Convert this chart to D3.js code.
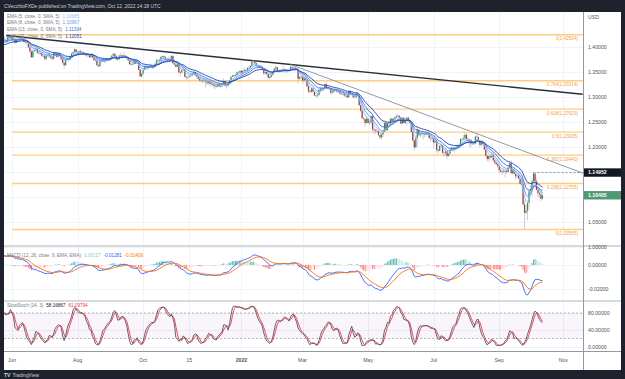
<!DOCTYPE html>
<html>
<head>
<meta charset="utf-8">
<script src="https://cdn.jsdelivr.net/npm/d3@7"></script>
<style>
  body { margin: 0; background: #1e222d; }
  svg text { font-family: 'Liberation Sans', Arial, sans-serif; }
</style>
</head>
<body>
<svg id="chart" width="625" height="379"></svg>
<script>
// GBP/USD daily, [high, low, close]; open = previous close
const firstDay = '2021-04-15';
const firstOpen = 1.3760;
const bars = [
  // Apr-May 2021 (warm-up, mostly off the left edge)
  [1.3820,1.3740,1.3790],[1.3855,1.3770,1.3840],
  [1.4000,1.3830,1.3990],[1.4010,1.3920,1.3935],[1.3960,1.3860,1.3935],[1.3960,1.3830,1.3845],[1.3890,1.3800,1.3870],
  [1.3920,1.3840,1.3880],[1.3930,1.3860,1.3900],[1.3945,1.3850,1.3925],[1.3970,1.3900,1.3940],[1.3950,1.3800,1.3820],
  [1.3920,1.3810,1.3905],[1.3920,1.3850,1.3895],[1.3930,1.3870,1.3905],[1.3950,1.3840,1.3890],[1.4000,1.3870,1.3990],
  [1.4165,1.3980,1.4140],[1.4165,1.4080,1.4140],[1.4170,1.4010,1.4045],[1.4080,1.4010,1.4055],[1.4110,1.4040,1.4090],
  [1.4160,1.4060,1.4145],[1.4235,1.4130,1.4200],[1.4210,1.4090,1.4110],[1.4195,1.4100,1.4185],[1.4200,1.4130,1.4150],
  [1.4165,1.4110,1.4145],[1.4220,1.4115,1.4150],[1.4175,1.4100,1.4125],[1.4215,1.4095,1.4200],[1.4220,1.4160,1.4195],
  [1.4230,1.4180,1.4225],
  // Jun 2021
  [1.4250,1.4140,1.4150],[1.4180,1.4100,1.4170],[1.4185,1.4070,1.4090],[1.4180,1.4090,1.4160],
  [1.4190,1.4130,1.4160],[1.4185,1.4110,1.4165],[1.4195,1.4130,1.4180],[1.4200,1.4130,1.4175],[1.4185,1.4085,1.4110],
  [1.4135,1.4075,1.4110],[1.4140,1.4060,1.4100],[1.4130,1.3990,1.4000],[1.4010,1.3880,1.3920],[1.3935,1.3790,1.3800],
  [1.3935,1.3790,1.3925],[1.3975,1.3900,1.3940],[1.3990,1.3915,1.3960],[1.3995,1.3875,1.3890],[1.3930,1.3860,1.3880],
  [1.3910,1.3845,1.3880],[1.3895,1.3810,1.3830],[1.3860,1.3800,1.3830],
  // Jul 2021
  [1.3850,1.3740,1.3770],[1.3840,1.3735,1.3830],
  [1.3865,1.3810,1.3840],[1.3895,1.3790,1.3820],[1.3840,1.3760,1.3790],[1.3810,1.3730,1.3770],[1.3900,1.3760,1.3890],
  [1.3900,1.3830,1.3875],[1.3910,1.3790,1.3810],[1.3900,1.3800,1.3870],[1.3880,1.3810,1.3825],[1.3840,1.3745,1.3760],
  [1.3775,1.3670,1.3690],[1.3700,1.3572,1.3640],[1.3760,1.3630,1.3750],[1.3790,1.3720,1.3765],[1.3780,1.3730,1.3750],
  [1.3840,1.3740,1.3825],[1.3890,1.3800,1.3875],[1.3915,1.3840,1.3905],[1.3985,1.3900,1.3960],[1.3965,1.3890,1.3905],
  // Aug 2021
  [1.3925,1.3870,1.3890],[1.3935,1.3870,1.3920],[1.3960,1.3880,1.3890],[1.3930,1.3860,1.3905],[1.3915,1.3850,1.3870],
  [1.3890,1.3830,1.3850],[1.3870,1.3800,1.3845],[1.3875,1.3810,1.3865],[1.3870,1.3790,1.3800],[1.3875,1.3790,1.3870],
  [1.3875,1.3780,1.3800],[1.3810,1.3725,1.3745],[1.3780,1.3720,1.3735],[1.3750,1.3630,1.3640],[1.3660,1.3600,1.3620],
  [1.3735,1.3610,1.3720],[1.3750,1.3690,1.3735],[1.3765,1.3710,1.3735],[1.3765,1.3690,1.3725],[1.3780,1.3690,1.3765],
  [1.3785,1.3740,1.3755],[1.3790,1.3730,1.3760],
  // Sep 2021
  [1.3810,1.3730,1.3790],[1.3850,1.3780,1.3835],[1.3890,1.3810,1.3870],
  [1.3875,1.3820,1.3830],[1.3840,1.3745,1.3760],[1.3790,1.3725,1.3760],[1.3850,1.3755,1.3835],[1.3890,1.3820,1.3840],
  [1.3850,1.3780,1.3815],[1.3910,1.3800,1.3835],[1.3850,1.3790,1.3815],[1.3830,1.3760,1.3780],[1.3800,1.3725,1.3735],
  [1.3740,1.3650,1.3660],[1.3695,1.3640,1.3660],[1.3700,1.3640,1.3665],[1.3750,1.3660,1.3730],[1.3730,1.3660,1.3675],
  [1.3745,1.3670,1.3690],[1.3700,1.3540,1.3550],[1.3560,1.3410,1.3415],[1.3495,1.3410,1.3475],
  // Oct 2021
  [1.3560,1.3435,1.3545],
  [1.3640,1.3540,1.3615],[1.3640,1.3570,1.3610],[1.3625,1.3545,1.3590],[1.3645,1.3575,1.3615],[1.3675,1.3600,1.3615],
  [1.3640,1.3570,1.3590],[1.3640,1.3570,1.3610],[1.3690,1.3600,1.3670],[1.3770,1.3660,1.3740],[1.3770,1.3710,1.3745],
  [1.3775,1.3670,1.3735],[1.3830,1.3725,1.3810],[1.3835,1.3770,1.3825],[1.3835,1.3780,1.3800],[1.3815,1.3740,1.3760],
  [1.3790,1.3735,1.3765],[1.3810,1.3740,1.3760],[1.3790,1.3725,1.3745],[1.3840,1.3740,1.3830],[1.3830,1.3670,1.3680],
  // Nov 2021
  [1.3695,1.3630,1.3655],[1.3680,1.3600,1.3610],[1.3680,1.3600,1.3665],[1.3700,1.3470,1.3500],[1.3535,1.3425,1.3495],
  [1.3570,1.3480,1.3545],[1.3610,1.3530,1.3560],[1.3570,1.3400,1.3410],[1.3430,1.3355,1.3400],[1.3430,1.3355,1.3410],
  [1.3440,1.3380,1.3420],[1.3475,1.3410,1.3440],[1.3500,1.3420,1.3465],[1.3515,1.3440,1.3505],[1.3510,1.3430,1.3440],
  [1.3460,1.3385,1.3415],[1.3425,1.3350,1.3375],[1.3385,1.3310,1.3335],[1.3355,1.3300,1.3325],[1.3380,1.3280,1.3335],
  [1.3370,1.3300,1.3320],[1.3370,1.3195,1.3300],
  // Dec 2021
  [1.3370,1.3250,1.3280],[1.3325,1.3250,1.3315],[1.3320,1.3210,1.3270],
  [1.3310,1.3235,1.3265],[1.3280,1.3200,1.3240],[1.3245,1.3160,1.3220],[1.3260,1.3190,1.3215],[1.3280,1.3200,1.3265],
  [1.3300,1.3200,1.3215],[1.3265,1.3200,1.3235],[1.3290,1.3210,1.3260],[1.3375,1.3230,1.3325],[1.3330,1.3220,1.3235],
  [1.3260,1.3170,1.3235],[1.3280,1.3210,1.3265],[1.3350,1.3240,1.3335],[1.3420,1.3320,1.3410],[1.3440,1.3395,1.3440],
  [1.3450,1.3400,1.3430],[1.3465,1.3410,1.3445],[1.3520,1.3420,1.3500],[1.3525,1.3470,1.3500],[1.3545,1.3480,1.3530],
  // Jan 2022
  [1.3540,1.3430,1.3485],[1.3560,1.3450,1.3530],[1.3590,1.3520,1.3545],[1.3560,1.3490,1.3530],[1.3600,1.3520,1.3590],
  [1.3620,1.3550,1.3590],[1.3640,1.3570,1.3630],[1.3715,1.3620,1.3710],[1.3750,1.3680,1.3715],[1.3725,1.3660,1.3680],
  [1.3700,1.3620,1.3635],[1.3650,1.3590,1.3615],[1.3640,1.3580,1.3620],[1.3650,1.3580,1.3595],[1.3615,1.3540,1.3550],
  [1.3560,1.3440,1.3480],[1.3520,1.3455,1.3505],[1.3535,1.3440,1.3465],[1.3470,1.3375,1.3390],[1.3430,1.3360,1.3410],
  [1.3450,1.3385,1.3445],
  // Feb 2022
  [1.3515,1.3435,1.3505],[1.3585,1.3490,1.3575],[1.3630,1.3550,1.3600],[1.3600,1.3500,1.3530],
  [1.3550,1.3490,1.3530],[1.3560,1.3500,1.3535],[1.3565,1.3510,1.3550],[1.3643,1.3520,1.3565],[1.3580,1.3500,1.3560],
  [1.3565,1.3490,1.3525],[1.3555,1.3500,1.3535],[1.3580,1.3510,1.3540],[1.3630,1.3540,1.3610],[1.3615,1.3570,1.3595],
  [1.3610,1.3550,1.3595],[1.3630,1.3530,1.3575],[1.3600,1.3540,1.3570],[1.3590,1.3270,1.3370],[1.3430,1.3350,1.3410],
  [1.3430,1.3360,1.3415],
  // Mar 2022
  [1.3435,1.3270,1.3335],[1.3410,1.3300,1.3385],[1.3435,1.3320,1.3345],[1.3360,1.3200,1.3220],
  [1.3250,1.3080,1.3115],[1.3160,1.3090,1.3105],[1.3190,1.3100,1.3180],[1.3190,1.3100,1.3110],[1.3125,1.3030,1.3035],
  [1.3090,1.3000,1.3035],[1.3075,1.3000,1.3045],[1.3160,1.3030,1.3150],[1.3210,1.3090,1.3170],[1.3200,1.3120,1.3180],
  [1.3200,1.3130,1.3185],[1.3280,1.3160,1.3260],[1.3300,1.3180,1.3190],[1.3220,1.3150,1.3185],[1.3215,1.3150,1.3185],
  [1.3185,1.3050,1.3090],[1.3175,1.3070,1.3105],[1.3160,1.3090,1.3145],[1.3175,1.3120,1.3140],
  // Apr 2022
  [1.3160,1.3080,1.3115],
  [1.3150,1.3090,1.3115],[1.3140,1.3060,1.3075],[1.3095,1.3050,1.3070],[1.3110,1.3050,1.3070],[1.3085,1.3010,1.3035],
  [1.3060,1.3000,1.3035],[1.3055,1.2975,1.3000],[1.3140,1.2990,1.3125],[1.3150,1.3040,1.3065],[1.3085,1.3035,1.3060],
  [1.3070,1.2990,1.3000],[1.3030,1.2980,1.3000],[1.3080,1.2990,1.3075],[1.3090,1.3020,1.3035],[1.3040,1.2830,1.2840],
  [1.2850,1.2710,1.2730],[1.2760,1.2575,1.2580],[1.2610,1.2530,1.2565],[1.2580,1.2410,1.2485],[1.2620,1.2480,1.2575],
  // May 2022
  [1.2580,1.2460,1.2490],[1.2540,1.2450,1.2495],[1.2640,1.2460,1.2625],[1.2640,1.2325,1.2360],[1.2400,1.2275,1.2340],
  [1.2370,1.2260,1.2330],[1.2375,1.2290,1.2320],[1.2350,1.2230,1.2245],[1.2260,1.2165,1.2200],[1.2280,1.2155,1.2255],
  [1.2330,1.2200,1.2315],[1.2500,1.2310,1.2490],[1.2500,1.2320,1.2340],[1.2500,1.2335,1.2475],[1.2525,1.2440,1.2470],
  [1.2590,1.2460,1.2570],[1.2600,1.2470,1.2530],[1.2585,1.2490,1.2570],[1.2615,1.2520,1.2605],[1.2660,1.2590,1.2625],
  [1.2670,1.2600,1.2630],[1.2640,1.2570,1.2600],
  // Jun 2022
  [1.2610,1.2460,1.2475],[1.2600,1.2460,1.2590],[1.2600,1.2480,1.2485],
  [1.2590,1.2470,1.2530],[1.2600,1.2430,1.2595],[1.2600,1.2500,1.2530],[1.2570,1.2470,1.2490],[1.2510,1.2290,1.2310],
  [1.2320,1.2120,1.2135],[1.2150,1.1934,1.2000],[1.2210,1.1980,1.2180],[1.2405,1.2010,1.2350],[1.2360,1.2230,1.2240],
  [1.2290,1.2200,1.2270],[1.2320,1.2240,1.2280],[1.2300,1.2160,1.2265],[1.2290,1.2200,1.2265],[1.2300,1.2230,1.2265],
  [1.2330,1.2250,1.2270],[1.2290,1.2170,1.2185],[1.2200,1.2130,1.2175],[1.2200,1.2100,1.2180],
  // Jul 2022
  [1.2190,1.1975,1.2095],
  [1.2160,1.2080,1.2125],[1.2160,1.1900,1.1945],[1.1980,1.1875,1.1930],[1.2040,1.1920,1.2025],[1.2070,1.1970,1.2035],
  [1.2020,1.1860,1.1890],[1.1920,1.1810,1.1890],[1.1970,1.1830,1.1920],[1.1920,1.1760,1.1825],[1.1880,1.1810,1.1870],
  [1.1985,1.1860,1.1955],[1.2020,1.1930,1.1985],[1.2015,1.1930,1.1965],[1.2000,1.1890,1.1990],[1.2060,1.1950,1.1995],
  [1.2060,1.1990,1.2040],[1.2080,1.2000,1.2025],[1.2180,1.2010,1.2165],[1.2190,1.2060,1.2170],[1.2245,1.2125,1.2180],
  // Aug 2022
  [1.2293,1.2170,1.2250],[1.2280,1.2150,1.2160],[1.2200,1.2110,1.2140],[1.2180,1.2000,1.2150],[1.2160,1.2005,1.2075],
  [1.2130,1.2050,1.2075],[1.2110,1.2050,1.2075],[1.2230,1.2060,1.2215],[1.2275,1.2190,1.2205],[1.2210,1.2110,1.2135],
  [1.2140,1.2000,1.2050],[1.2120,1.2020,1.2100],[1.2140,1.2040,1.2065],[1.2080,1.1945,1.1955],[1.1960,1.1815,1.1830],
  [1.1840,1.1720,1.1765],[1.1840,1.1715,1.1825],[1.1840,1.1760,1.1800],[1.1880,1.1790,1.1835],[1.1900,1.1720,1.1735],
  [1.1760,1.1650,1.1690],[1.1740,1.1650,1.1660],[1.1690,1.1600,1.1620],
  // Sep 2022
  [1.1625,1.1500,1.1540],[1.1600,1.1490,1.1510],
  [1.1560,1.1445,1.1520],[1.1590,1.1480,1.1510],[1.1530,1.1405,1.1530],[1.1560,1.1460,1.1505],[1.1650,1.1500,1.1595],
  [1.1700,1.1580,1.1680],[1.1740,1.1480,1.1480],[1.1590,1.1460,1.1540],[1.1590,1.1460,1.1470],[1.1470,1.1350,1.1420],
  [1.1460,1.1380,1.1435],[1.1460,1.1370,1.1375],[1.1390,1.1260,1.1270],[1.1360,1.1210,1.1255],[1.1270,1.0840,1.0860],
  [1.0930,1.0356,1.0690],[1.0840,1.0660,1.0730],[1.0900,1.0540,1.0890],[1.1140,1.0760,1.1120],[1.1240,1.1030,1.1165],
  // Oct 2022
  [1.1340,1.1030,1.1320],[1.14952,1.1290,1.1475],[1.1480,1.1300,1.1320],[1.1380,1.1140,1.1150],[1.1190,1.1000,1.1085],
  [1.1105,1.0995,1.1055],[1.1105,1.0925,1.0970],[1.1080,1.0950,1.10405]
];

const priceTicks = [1.00, 1.05, 1.10, 1.15, 1.20, 1.25, 1.30, 1.35, 1.40];
const timeTicks = [
  ['2021-06-01', 'Jun'], ['2021-08-02', 'Aug'], ['2021-10-01', 'Oct'], ['2021-11-15', '15'],
  ['2022-01-03', '2022'], ['2022-03-01', 'Mar'], ['2022-05-02', 'May'], ['2022-07-01', 'Jul'],
  ['2022-09-01', 'Sep'], ['2022-11-01', 'Nov']
];
const fibLevels = [[1, 1.42504], [0.764, 1.33314], [0.618, 1.27629], [0.5, 1.23035], [0.382, 1.18440], [0.236, 1.12755], [0, 1.03565]];
const fibStart = '2021-06-01';
const emaLengths = [5, 8, 13, 21];
const emaColors = ['#8fc1f7', '#5b9bf0', '#3270e0', '#1c3fb0'];
const emaLegend = ['1.10685', '1.10967', '1.11334', '1.12051'];
const macdLegend = ['0.00127', '-0.01281', '-0.01408'];
const stochLegend = ['58.16867', '61.09794'];
const macdTicks = [0, -0.02];
const stochTicks = [0, 40, 80];
const stochBands = [80, 20];
// trendlines: [date index, price]
const trendMajor = [[29, 1.4235], [416, 1.3060]];
const trendMinor = [[220, 1.3656], [416, 1.1486]];
const lastHigh = 1.14952, lastClose = 1.10405;

const W = 625, H = 379, L = 4, R = 583, AXR = 621, TOP = 12, BOT = 370;
const mainP = [TOP, 245], macdP = [247, 300], stochP = [302, 351];

// trading days
const dates = [];
for (let d = new Date(firstDay + 'T00:00:00Z'); dates.length < bars.length + 40; d.setUTCDate(d.getUTCDate() + 1)) {
  const w = d.getUTCDay();
  if (w !== 0 && w !== 6) dates.push(d.toISOString().slice(0, 10));
}
const idxOf = s => dates.indexOf(s);

const closes = bars.map(b => b[2]);
const ohlc = bars.map((b, i) => {
  const o = i === 0 ? firstOpen : closes[i - 1], c = b[2];
  return { i, o, c, h: Math.max(b[0], o, c), l: Math.min(b[1], o, c) };
});

function ema(src, n) { const a = 2 / (n + 1); let p; return src.map((v, i) => (p = i === 0 ? v : a * v + (1 - a) * p)); }
function sma(src, n) {
  return src.map((v, i) => {
    if (i < n - 1) return null;
    const w = src.slice(i - n + 1, i + 1);
    return w.some(u => u == null) ? null : d3.mean(w);
  });
}

const emas = emaLengths.map(n => ema(closes, n));
const e12 = ema(closes, 12), e26 = ema(closes, 26);
const macd = closes.map((_, i) => e12[i] - e26[i]);
const signal = ema(macd, 9);
const hist = macd.map((m, i) => m - signal[i]);
const rawK = ohlc.map((b, i) => {
  if (i < 13) return null;
  const win = ohlc.slice(i - 13, i + 1);
  const hh = d3.max(win, d => d.h), ll = d3.min(win, d => d.l);
  return 100 * (b.c - ll) / (hh - ll);
});
const kLine = sma(rawK, 3), dLine = sma(kLine, 3);

const a0 = idxOf('2021-06-01');
const x = d3.scaleLinear().domain([a0, a0 + 370]).range([12, 563.3]);
const y = d3.scaleLinear().domain([1.00, 1.40]).range([247.3, 47.3]);
const ym = d3.scaleLinear().domain([0, -0.02]).range([265, 289]);
const ys = d3.scaleLinear().domain([0, 80]).range([347, 313]);

const svg = d3.select('#chart');
svg.append('rect').attr('width', W).attr('height', H).attr('fill', '#1e222d');
svg.append('rect').attr('x', L).attr('y', TOP).attr('width', AXR - L).attr('height', BOT - TOP).attr('fill', '#fff');

const defs = svg.append('defs');
[['clipMain', mainP], ['clipMacd', macdP], ['clipStoch', stochP]].forEach(([id, p]) => {
  defs.append('clipPath').attr('id', id).append('rect').attr('x', L).attr('y', p[0]).attr('width', R - L).attr('height', p[1] - p[0]);
});

// grid
const grid = svg.append('g').attr('stroke', '#f0f3fa').attr('stroke-width', 1);
timeTicks.forEach(([d]) => {
  const xx = Math.round(x(idxOf(d))) + 0.5;
  grid.append('line').attr('x1', xx).attr('x2', xx).attr('y1', TOP).attr('y2', stochP[1]);
});
priceTicks.forEach(p => grid.append('line').attr('x1', L).attr('x2', R).attr('y1', Math.round(y(p)) + 0.5).attr('y2', Math.round(y(p)) + 0.5));
macdTicks.forEach(v => grid.append('line').attr('x1', L).attr('x2', R).attr('y1', Math.round(ym(v)) + 0.5).attr('y2', Math.round(ym(v)) + 0.5));
stochTicks.forEach(v => grid.append('line').attr('x1', L).attr('x2', R).attr('y1', Math.round(ys(v)) + 0.5).attr('y2', Math.round(ys(v)) + 0.5));

// ---- main pane
const main = svg.append('g').attr('clip-path', 'url(#clipMain)');

const fi = idxOf(fibStart);
fibLevels.forEach(([lv, p]) => {
  main.append('line').attr('x1', x(fi)).attr('x2', R).attr('y1', y(p)).attr('y2', y(p))
    .attr('stroke', '#ffcc80').attr('stroke-width', 1.4);
  main.append('text').attr('x', 578).attr('y', y(p) + 5.5).attr('text-anchor', 'end')
    .attr('font-size', 4.6).attr('fill', '#f5a040').text(`${lv}(${p.toFixed(5)})`);
});

const tl = d3.line().x(d => x(d[0])).y(d => y(d[1]));
main.append('path').attr('d', tl(trendMajor)).attr('stroke', '#2a2e39').attr('stroke-width', 1.4).attr('fill', 'none');
main.append('path').attr('d', tl(trendMinor)).attr('stroke', '#8a8d96').attr('stroke-width', 0.9).attr('fill', 'none');

const hiIdx = ohlc.findIndex(b => b.h === lastHigh);
main.append('line').attr('x1', x(hiIdx)).attr('x2', R).attr('y1', y(lastHigh)).attr('y2', y(lastHigh))
  .attr('stroke', '#787b86').attr('stroke-width', 0.8).attr('stroke-dasharray', '2,2');

const candles = main.append('g').selectAll('g').data(ohlc).join('g');
candles.append('line').attr('x1', d => x(d.i)).attr('x2', d => x(d.i)).attr('y1', d => y(d.h)).attr('y2', d => y(d.l))
  .attr('stroke', '#b6b9c0').attr('stroke-width', 0.7);
candles.append('rect').attr('x', d => x(d.i) - 0.6).attr('width', 1.2)
  .attr('y', d => y(Math.max(d.o, d.c))).attr('height', d => Math.max(0.6, Math.abs(y(d.o) - y(d.c))))
  .attr('fill', d => d.c >= d.o ? '#3a8c5c' : '#a8342c');

emas.forEach((e, k) => {
  main.append('path').datum(e).attr('fill', 'none').attr('stroke', emaColors[k]).attr('stroke-width', 0.9)
    .attr('d', d3.line().x((v, i) => x(i)).y(v => y(v)));
});

// ---- MACD pane
const mp = svg.append('g').attr('clip-path', 'url(#clipMacd)');
mp.selectAll('rect').data(hist).join('rect')
  .attr('x', (v, i) => x(i) - 0.5).attr('width', 1)
  .attr('y', v => Math.min(ym(0), ym(v))).attr('height', v => Math.abs(ym(v) - ym(0)))
  .attr('fill', (v, i) => v >= 0 ? (i > 0 && hist[i - 1] < v ? '#26a69a' : '#b2dfdb') : (i > 0 && hist[i - 1] < v ? '#ffcdd2' : '#ff5252'))
  .attr('opacity', 0.75);
mp.append('path').datum(macd).attr('fill', 'none').attr('stroke', '#2962ff').attr('stroke-width', 0.9)
  .attr('d', d3.line().x((v, i) => x(i)).y(v => ym(v)));
mp.append('path').datum(signal).attr('fill', 'none').attr('stroke', '#ff6d00').attr('stroke-width', 0.9)
  .attr('d', d3.line().x((v, i) => x(i)).y(v => ym(v)));

// ---- Stoch pane
const sp = svg.append('g').attr('clip-path', 'url(#clipStoch)');
sp.append('rect').attr('x', L).attr('width', R - L).attr('y', ys(stochBands[0])).attr('height', ys(stochBands[1]) - ys(stochBands[0]))
  .attr('fill', 'rgba(156,39,176,0.05)');
stochBands.forEach(v => sp.append('line').attr('x1', L).attr('x2', R).attr('y1', ys(v)).attr('y2', ys(v))
  .attr('stroke', '#9598a1').attr('stroke-width', 0.7).attr('stroke-dasharray', '2,2'));
const sl = d3.line().defined(v => v != null).x((v, i) => x(i)).y(v => ys(v));
sp.append('path').datum(dLine).attr('fill', 'none').attr('stroke', '#f23645').attr('stroke-width', 0.9).attr('d', sl);
sp.append('path').datum(kLine).attr('fill', 'none').attr('stroke', '#50535e').attr('stroke-width', 0.9).attr('d', sl);

// pane separators and axis borders
const sep = svg.append('g').attr('stroke', '#c9ccd3');
[246, 301].forEach(v => sep.append('line').attr('x1', L).attr('x2', AXR).attr('y1', v).attr('y2', v).attr('stroke-width', 1.6));
sep.append('line').attr('x1', L).attr('x2', AXR).attr('y1', 351.5).attr('y2', 351.5).attr('stroke', '#9598a1').attr('stroke-width', 1);
sep.append('line').attr('x1', R + 0.5).attr('x2', R + 0.5).attr('y1', TOP).attr('y2', BOT).attr('stroke', '#9598a1').attr('stroke-width', 1);

// price axes (tick labels hidden where a price box covers them)
const boxes = [[lastHigh, '#131722'], [lastClose, '#4e9a72']];
const axT = svg.append('g').attr('font-size', 5.2).attr('fill', '#50535e');
axT.append('text').attr('x', 588).attr('y', 18.5).text('USD');
priceTicks.filter(p => boxes.every(([b]) => Math.abs(y(p) - y(b)) > 7))
  .forEach(p => axT.append('text').attr('x', 588).attr('y', y(p) + 1.8).text(p.toFixed(5)));
macdTicks.forEach(v => axT.append('text').attr('x', 588).attr('y', ym(v) + 1.8).text(v.toFixed(5)));
stochTicks.forEach(v => axT.append('text').attr('x', 588).attr('y', ys(v) + 1.8).text(v.toFixed(5)));

boxes.forEach(([p, c]) => {
  svg.append('rect').attr('x', R + 1).attr('y', y(p) - 4.2).attr('width', AXR - R - 1).attr('height', 8.4).attr('fill', c);
  svg.append('text').attr('x', 588).attr('y', y(p) + 1.9).attr('font-size', 5.2).attr('font-weight', 'bold')
    .attr('fill', '#fff').text(p.toFixed(5));
});

// time axis
timeTicks.forEach(([d, lab]) => {
  svg.append('text').attr('x', x(idxOf(d))).attr('y', 362).attr('text-anchor', 'middle')
    .attr('font-size', 5.2).attr('fill', '#50535e').attr('font-weight', lab === '2022' ? 'bold' : 'normal').text(lab);
});

// legends
function legend(yy, label, vals) {
  const g = svg.append('g').attr('font-size', 4.6);
  const t = g.append('text').attr('x', 7).attr('y', yy).attr('fill', '#787b86').text(label);
  let xx = 7 + t.node().getComputedTextLength() + 3;
  vals.forEach(([v, c]) => {
    const tv = g.append('text').attr('x', xx).attr('y', yy).attr('fill', c).text(v);
    xx += tv.node().getComputedTextLength() + 3;
  });
}
emaLengths.forEach((n, k) => legend(17.5 + k * 6.7, `EMA (${n}, close, 0, SMA, 5)`, [[emaLegend[k], emaColors[k]]]));
legend(256.5, 'MACD (12, 26, close, 9, EMA, EMA)', [[macdLegend[0], '#7fcfc3'], [macdLegend[1], '#2962ff'], [macdLegend[2], '#ff6d00']]);
legend(307, 'SlowStoch (14, 3)', [[stochLegend[0], '#131722'], [stochLegend[1], '#f23645']]);

// header / footer
svg.append('text').attr('x', 4).attr('y', 8).attr('font-size', 4.9).attr('fill', '#d1d4dc')
  .text('CVecchioFXDe published on TradingView.com, Oct 12, 2022 14:18 UTC');
svg.append('text').attr('x', 4).attr('y', 377).attr('font-size', 5).attr('font-weight', 'bold').attr('fill', '#d1d4dc').text('TV');
svg.append('text').attr('x', 12.5).attr('y', 377).attr('font-size', 4.8).attr('fill', '#d1d4dc').text('TradingView');
</script>
</body>
</html>
